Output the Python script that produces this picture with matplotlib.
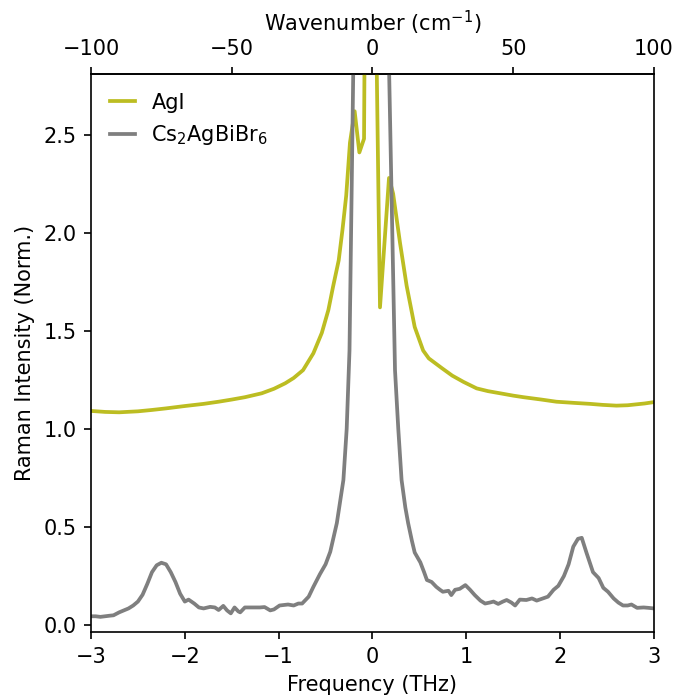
import numpy as np
import matplotlib
matplotlib.use("Agg")
import matplotlib.pyplot as plt

# frequency (THz) and normalised Raman intensity
agi_freq = [-3.0, -2.85, -2.7, -2.5, -2.35, -2.2, -2.0, -1.8, -1.64, -1.5, -1.36,
            -1.18, -1.05, -0.93, -0.84, -0.74, -0.63, -0.54, -0.47, -0.42, -0.36,
            -0.32, -0.28, -0.24, -0.19, -0.14, -0.09, -0.045, 0.0,
            0.035, 0.08, 0.176, 0.22, 0.293, 0.364, 0.45, 0.54, 0.6,
            0.74, 0.85, 0.97, 1.11, 1.23, 1.36, 1.5, 1.61, 1.8, 1.96,
            2.15, 2.32, 2.45, 2.6, 2.72, 2.82, 2.9, 3.0]
agi_int = [1.092, 1.087, 1.085, 1.09, 1.097, 1.105, 1.117, 1.128, 1.139, 1.15, 1.162,
           1.182, 1.205, 1.233, 1.26, 1.30, 1.386, 1.49, 1.607, 1.726, 1.86,
           2.015, 2.19, 2.46, 2.62, 2.41, 2.48, 6.0, 6.0,
           3.2, 1.62, 2.28, 2.20, 1.95, 1.73, 1.52, 1.40, 1.36,
           1.31, 1.272, 1.24, 1.207, 1.193, 1.182, 1.17, 1.162, 1.15, 1.139,
           1.133, 1.128, 1.123, 1.119, 1.121, 1.126, 1.13, 1.137]

cs_freq = [-3.0, -2.95, -2.9, -2.85, -2.8, -2.76, -2.7, -2.65, -2.6, -2.55, -2.5,
           -2.45, -2.4, -2.35, -2.3, -2.25, -2.2, -2.15, -2.1, -2.05, -2.0, -1.96,
           -1.9, -1.85, -1.8, -1.73, -1.68, -1.64, -1.59, -1.55, -1.51, -1.47,
           -1.43, -1.41, -1.36, -1.3, -1.2, -1.15, -1.09, -1.05, -0.99, -0.9,
           -0.84, -0.79, -0.75, -0.68, -0.63, -0.56, -0.5, -0.45, -0.38,
           -0.31, -0.275, -0.245, -0.2, -0.15, 0.0, 0.12, 0.17, 0.24, 0.275,
           0.31, 0.35, 0.38, 0.42, 0.45, 0.51, 0.55, 0.58, 0.63, 0.68, 0.72,
           0.75, 0.81, 0.84, 0.88, 0.93, 0.99, 1.04, 1.09, 1.15, 1.2, 1.25, 1.29,
           1.34, 1.39, 1.43, 1.48, 1.52, 1.57, 1.64, 1.7, 1.75, 1.81, 1.87, 1.93,
           1.98, 2.04, 2.09, 2.14, 2.19, 2.23, 2.28, 2.35, 2.41, 2.46, 2.51, 2.57,
           2.62, 2.67, 2.72, 2.76, 2.82, 2.89, 2.94, 3.0]
cs_int = [0.045, 0.045, 0.042, 0.045, 0.048, 0.05, 0.065, 0.075, 0.085, 0.10, 0.12,
          0.155, 0.21, 0.27, 0.305, 0.318, 0.31, 0.27, 0.22, 0.16, 0.12, 0.13,
          0.11, 0.09, 0.085, 0.093, 0.09, 0.077, 0.098, 0.075, 0.06, 0.09,
          0.07, 0.065, 0.09, 0.09, 0.09, 0.092, 0.075, 0.08, 0.10, 0.105,
          0.10, 0.11, 0.11, 0.145, 0.195, 0.26, 0.31, 0.374, 0.52,
          0.74, 1.0, 1.4, 3.0, 6.0, 10.0, 6.0, 3.0, 1.3, 1.0,
          0.74, 0.60, 0.52, 0.43, 0.37, 0.32, 0.27, 0.23, 0.22, 0.195, 0.18,
          0.17, 0.175, 0.153, 0.18, 0.185, 0.204, 0.18, 0.153, 0.125, 0.11, 0.115, 0.12,
          0.108, 0.12, 0.128, 0.115, 0.10, 0.13, 0.128, 0.136, 0.125, 0.135, 0.145, 0.18,
          0.20, 0.25, 0.31, 0.40, 0.44, 0.445, 0.37, 0.27, 0.24, 0.19, 0.17, 0.136,
          0.115, 0.10, 0.10, 0.105, 0.088, 0.09, 0.088, 0.085]

THZ_TO_CM = 33.356


def thz2cm(x):
    return np.asarray(x) * THZ_TO_CM


def cm2thz(x):
    return np.asarray(x) / THZ_TO_CM


fig, ax = plt.subplots(figsize=(674 / 150, 698 / 150), dpi=150)
fig.subplots_adjust(left=0.135, right=0.9703, top=0.894, bottom=0.0946)

ax.plot(agi_freq, agi_int, color='tab:olive', lw=1.8, label='AgI')
ax.plot(cs_freq, cs_int, color='tab:gray', lw=1.8, label='Cs$_2$AgBiBr$_6$')

ax.set_xlim(-3, 3)
ax.set_ylim(-0.035, 2.81)
ax.set_xlabel('Frequency (THz)')
ax.set_ylabel('Raman Intensity (Norm.)')
ax.set_yticks([0.0, 0.5, 1.0, 1.5, 2.0, 2.5])

top = ax.secondary_xaxis('top', functions=(thz2cm, cm2thz))
top.set_xticks([-100, -50, 0, 50, 100])
top.set_xlabel('Wavenumber (cm$^{-1}$)')

ax.legend(loc='upper left', frameon=False, handlelength=1.2)

fig.savefig('out.png', dpi=150)
